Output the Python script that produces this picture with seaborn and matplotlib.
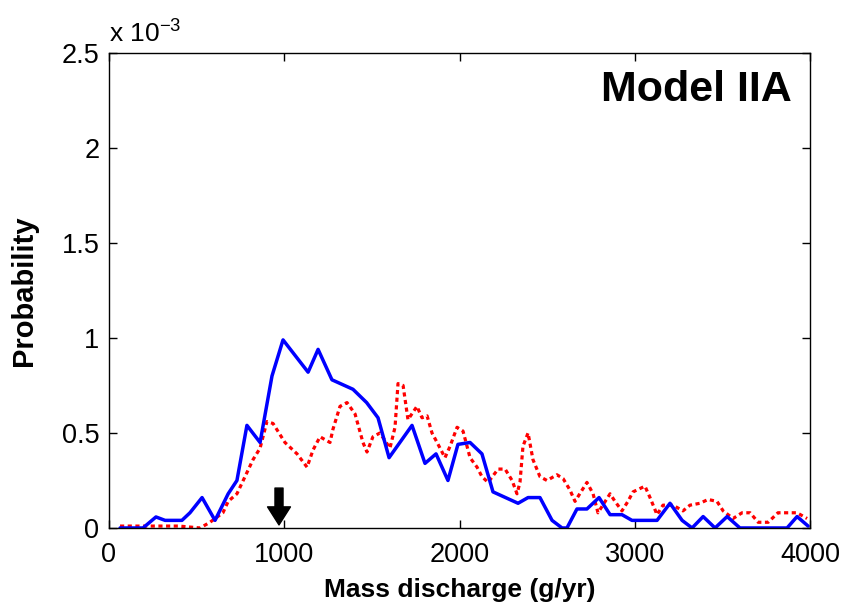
import matplotlib
matplotlib.use("Agg")
import matplotlib.pyplot as plt
import matplotlib.ticker as mticker
import seaborn as sns

# blue solid curve
blue_x = [63, 194, 268, 320, 416, 462, 531, 605, 680, 730, 787, 862, 930, 993, 1136,
          1193, 1272, 1392, 1470, 1535, 1598, 1729, 1803, 1866, 1934, 1991, 2060, 2128,
          2191, 2334, 2391, 2459, 2528, 2585, 2613, 2670, 2727, 2796, 2859, 2927, 2984,
          3127, 3201, 3270, 3327, 3390, 3458, 3527, 3600, 3869, 3926, 3989]
blue_y = [0, 0, 0.058, 0.04, 0.04, 0.08, 0.16, 0.04, 0.18, 0.25, 0.54, 0.45, 0.8, 0.99, 0.82,
          0.94, 0.78, 0.73, 0.66, 0.58, 0.37, 0.54, 0.34, 0.39, 0.25, 0.44, 0.45, 0.39,
          0.19, 0.13, 0.16, 0.16, 0.04, 0, 0, 0.1, 0.1, 0.16, 0.07, 0.07, 0.04,
          0.04, 0.13, 0.04, 0, 0.06, 0, 0.06, 0, 0, 0.06, 0.01]

# red dotted curve
red_x = [63, 200, 300, 400, 520, 576, 650, 680, 730, 776, 822, 862, 901, 936, 1004,
         1073, 1130, 1164, 1204, 1261, 1278, 1318, 1358, 1404, 1449, 1472, 1506, 1546,
         1603, 1632, 1649, 1678, 1706, 1757, 1786, 1815, 1843, 1872, 1917, 1946, 1986,
         2020, 2060, 2100, 2128, 2163, 2220, 2260, 2300, 2328, 2345, 2362, 2391, 2419,
         2459, 2499, 2556, 2591, 2630, 2659, 2727, 2762, 2790, 2859, 2887, 2927, 2961,
         2990, 3058, 3087, 3127, 3161, 3218, 3275, 3315, 3372, 3418, 3469, 3504, 3561,
         3612, 3658, 3704, 3761, 3817, 3875, 3926, 3983]
red_y = [0.01, 0.01, 0.01, 0.01, 0.0, 0.03, 0.08, 0.14, 0.18, 0.27, 0.36, 0.42, 0.56, 0.55, 0.45,
         0.39, 0.32, 0.41, 0.48, 0.45, 0.52, 0.64, 0.66, 0.6, 0.45, 0.4, 0.48, 0.5,
         0.42, 0.53, 0.76, 0.75, 0.57, 0.64, 0.58, 0.59, 0.5, 0.45, 0.37, 0.43, 0.53,
         0.51, 0.37, 0.32, 0.27, 0.24, 0.31, 0.31, 0.25, 0.18, 0.24, 0.43, 0.5, 0.36,
         0.27, 0.25, 0.28, 0.26, 0.2, 0.14, 0.24, 0.18, 0.08, 0.18, 0.14, 0.09, 0.14,
         0.19, 0.22, 0.16, 0.07, 0.12, 0.12, 0.09, 0.12, 0.13, 0.15, 0.14, 0.09, 0.05,
         0.08, 0.08, 0.03, 0.03, 0.08, 0.08, 0.08, 0.05]

scale = 1e-3
blue_y = [v * scale for v in blue_y]
red_y = [v * scale for v in red_y]

x_ticks = [0, 1000, 2000, 3000, 4000]
y_ticks = [0, 0.5e-3, 1e-3, 1.5e-3, 2e-3, 2.5e-3]
arrow_x = 970

sns.set_style("ticks")
plt.rcParams['font.family'] = ['Liberation Sans', 'DejaVu Sans']
plt.rcParams['mathtext.fontset'] = 'custom'
plt.rcParams['mathtext.rm'] = 'Liberation Sans'

fig = plt.figure(figsize=(8.43, 6.12), dpi=100)
ax = fig.add_axes([0.1293, 0.1373, 0.8316, 0.7761])

sns.lineplot(x=red_x, y=red_y, ax=ax, color="red", linewidth=2.3, estimator=None,
             linestyle=(0, (1.3, 1.1)))
sns.lineplot(x=blue_x, y=blue_y, ax=ax, color="blue", linewidth=2.5, estimator=None)

ax.set_xlim(0, 4000)
ax.set_ylim(0, 2.5e-3)
ax.set_xticks(x_ticks)
ax.set_yticks(y_ticks)
ax.yaxis.set_major_formatter(mticker.FuncFormatter(lambda v, p: f"{v / scale:g}"))
ax.tick_params(direction="in", length=6, width=1, labelsize=19.5, top=True, right=True,
               colors="black", pad=7)
ax.tick_params(axis="x", pad=10)
for s in ax.spines.values():
    s.set_linewidth(1)
    s.set_color("black")

ax.set_xlabel("Mass discharge (g/yr)", fontsize=19, fontweight="bold", labelpad=7,
              color="black")
ax.set_ylabel("Probability", fontsize=21, fontweight="bold", labelpad=17, color="black")
ax.text(0.0, 1.023, r"x 10$^{\mathregular{-3}}$", transform=ax.transAxes, fontsize=19,
        va="baseline", color="black")
ax.text(0.974, 0.922, "Model IIA", transform=ax.transAxes, fontsize=31, fontweight="bold",
        ha="right", va="center", color="black")

ax.annotate("", xy=(arrow_x, 0.016e-3), xytext=(arrow_x, 0.21e-3),
            arrowprops=dict(facecolor="black", edgecolor="black", width=5.8,
                            headwidth=16.5, headlength=13, shrink=0))

fig.savefig("out.png", dpi=100)
